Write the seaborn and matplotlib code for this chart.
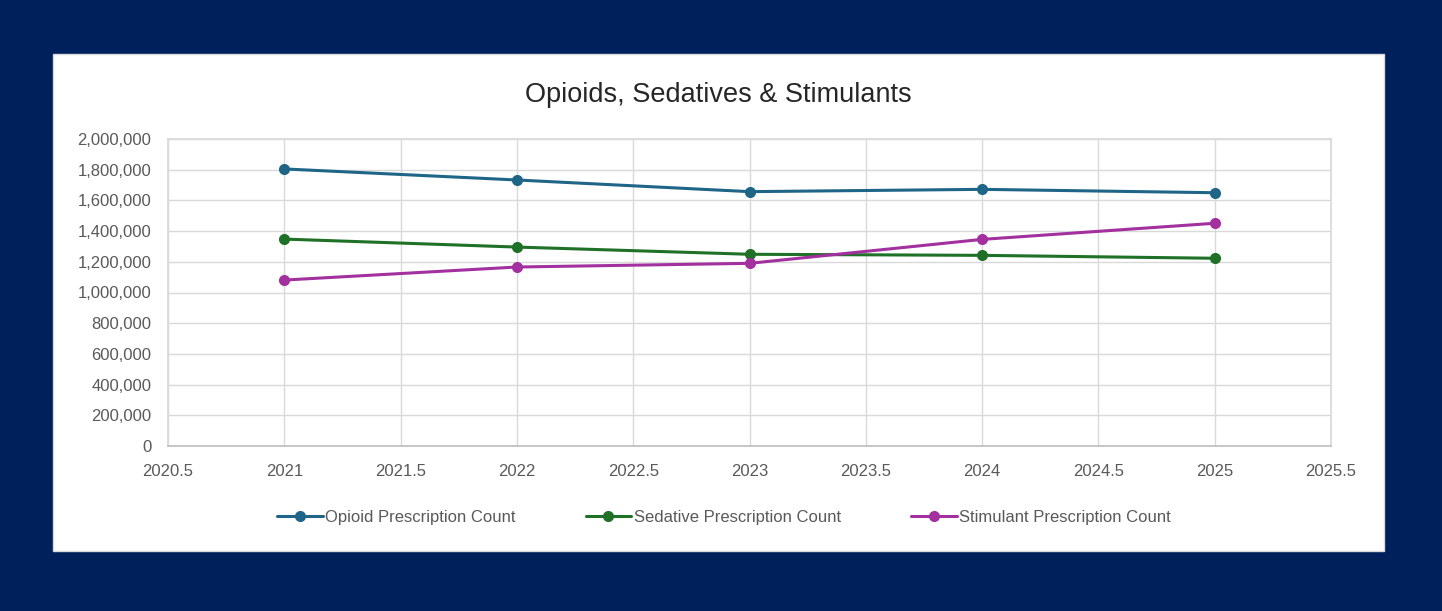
import pandas as pd
import matplotlib.pyplot as plt
import matplotlib.patches as mpatches
import matplotlib.ticker as mticker
import seaborn as sns

years = [2021, 2022, 2023, 2024, 2025]
opioid = [1805000, 1733000, 1657000, 1672000, 1650000]
sedative = [1348000, 1296000, 1249000, 1242000, 1223000]
stimulant = [1081000, 1166000, 1190000, 1346000, 1451000]
series_names = ['Opioid Prescription Count', 'Sedative Prescription Count', 'Stimulant Prescription Count']
series_colors = ['#1F6587', '#1E7126', '#A3309F']

# long-form table for seaborn
df = pd.DataFrame({
    'Year': years * 3,
    'Count': opioid + sedative + stimulant,
    'Series': [s for s in series_names for _ in years],
})

sns.set_theme(style='white')
plt.rcParams['font.family'] = ['Liberation Sans', 'DejaVu Sans']

fig = plt.figure(figsize=(14.42, 6.11), dpi=100)
fig.patch.set_facecolor('#00205C')

# white chart panel
panel = mpatches.Rectangle((53 / 1442, 1 - 551 / 611), (1384 - 53) / 1442, (551 - 54) / 611,
                           transform=fig.transFigure, facecolor='white', edgecolor='#D9D9D9', lw=1, zorder=0)
fig.add_artist(panel)

ax = fig.add_axes([168 / 1442, 1 - 446 / 611, (1331 - 168) / 1442, (446 - 139) / 611])
ax.set_facecolor('white')

sns.lineplot(data=df, x='Year', y='Count', hue='Series', palette=series_colors,
             marker='o', markersize=8, markeredgewidth=0, linewidth=2.2, ax=ax)

ax.set_xlim(2020.5, 2025.5)
ax.set_ylim(0, 2000000)
ax.xaxis.set_major_locator(mticker.MultipleLocator(0.5))
ax.yaxis.set_major_locator(mticker.MultipleLocator(200000))
ax.xaxis.set_major_formatter(mticker.FuncFormatter(lambda v, p: f'{v:g}'))
ax.yaxis.set_major_formatter(mticker.FuncFormatter(lambda v, p: f'{int(v):,}'))
ax.grid(True, color='#D9D9D9', linewidth=1)
ax.set_axisbelow(True)
for side in ['top', 'left', 'right']:
    ax.spines[side].set_color('#D9D9D9')
ax.spines['bottom'].set_color('#BFBFBF')
ax.tick_params(axis='both', labelsize=12, colors='#595959', length=0)
ax.tick_params(axis='y', pad=12)
ax.tick_params(axis='x', pad=13)
ax.set_xlabel('')
ax.set_ylabel('')

fig.text(718 / 1442, 1 - 95 / 611, 'Opioids, Sedatives & Stimulants', ha='center', va='center',
         fontsize=19.5, color='#262626')

handles, labels = ax.get_legend_handles_labels()
ax.legend(handles, labels, loc='center', bbox_to_anchor=(0.478, -0.233), ncol=3, frameon=False,
          fontsize=12, labelcolor='#595959', handlelength=2.75, handletextpad=0.15, columnspacing=4.2)

fig.savefig('out.png', dpi=100, facecolor=fig.get_facecolor())
